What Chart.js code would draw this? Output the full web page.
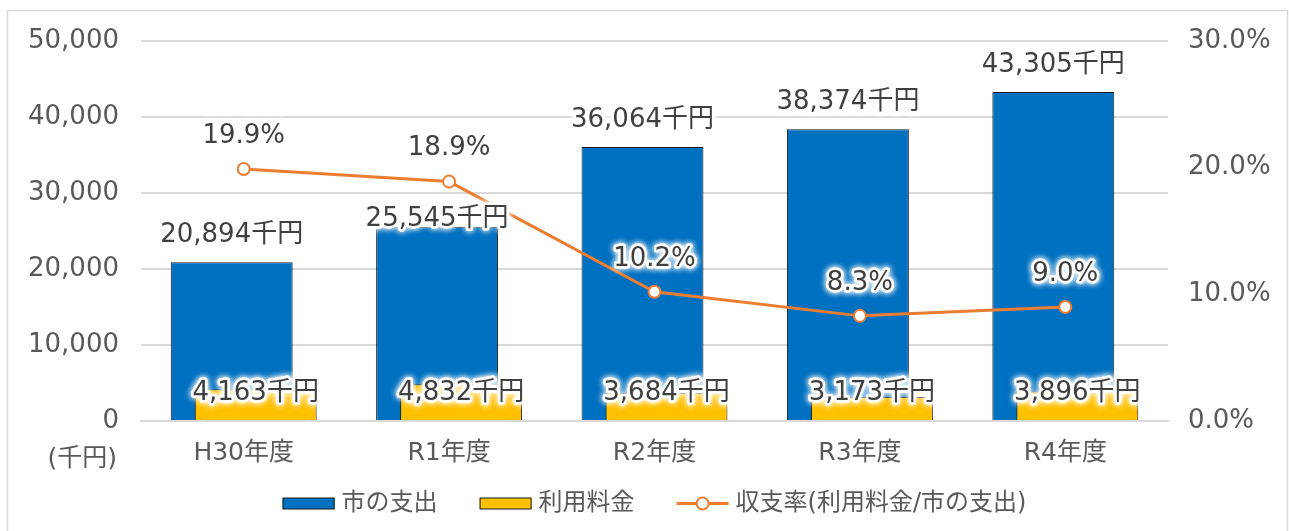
<!DOCTYPE html>
<html>
<head>
<meta charset="utf-8">
<script src="https://cdn.jsdelivr.net/npm/chart.js@4/dist/chart.umd.min.js"></script>
<style>
html,body{margin:0;padding:0;background:#fff;overflow:hidden;}
#wrap{width:1289px;height:531px;position:relative;}
</style>
</head>
<body>
<div id="wrap"><canvas id="c" width="1289" height="531"></canvas></div>
<script>
// ---- data ----
const categories = ['H30年度', 'R1年度', 'R2年度', 'R3年度', 'R4年度'];
const cityExpense = [20894, 25545, 36064, 38374, 43305];
const usageFees = [4163, 4832, 3684, 3173, 3896];
const recoveryRate = [19.9, 18.9, 10.2, 8.3, 9.0];
const leftTicks = [0, 10000, 20000, 30000, 40000, 50000];
const rightTicks = [0, 10, 20, 30];
const seriesNames = ['市の支出', '利用料金', '収支率(利用料金/市の支出)'];
const unitLabel = '(千円)';
const valueSuffix = '千円';

// ---- styling ----
const FONT = "'DejaVu Sans', 'Noto Sans CJK JP', sans-serif";
const BLUE = '#0070C0', YELLOW = '#FFC000', ORANGE = '#ED7D31';
const GRID = '#d9d9d9', TICK = '#595959', LABEL = '#404040';
const topLabelShift = [0, 19, 0, 0, 0];

Chart.defaults.font.family = FONT;

function fmt(v) { return v.toLocaleString('en-US'); }

function glowText(ctx, text, x, y, color) {
  ctx.save();
  ctx.shadowColor = 'rgba(255,255,255,1)';
  ctx.shadowBlur = 6;
  ctx.strokeStyle = 'rgba(255,255,255,0.9)';
  ctx.lineWidth = 5;
  ctx.lineJoin = 'round';
  ctx.strokeText(text, x, y);
  ctx.strokeText(text, x, y);
  ctx.restore();
  ctx.fillStyle = color;
  ctx.fillText(text, x, y);
}

const deferred = [1, 2];

const customPlugin = {
  id: 'custom',
  beforeDatasetDraw(chart, args) {
    if (deferred.includes(args.index)) return false;
  },
  afterDatasetsDraw(chart) {
    const ctx = chart.ctx;
    for (const idx of deferred) {
      ctx.save();
      chart.getDatasetMeta(idx).controller.draw();
      ctx.restore();
    }
    ctx.save();
    ctx.font = '26px ' + FONT;
    ctx.textAlign = 'center';
    ctx.textBaseline = 'middle';
    const m0 = chart.getDatasetMeta(0).data;
    const m1 = chart.getDatasetMeta(1).data;
    const m2 = chart.getDatasetMeta(2).data;
    m0.forEach((el, i) => {
      glowText(ctx, fmt(cityExpense[i]) + valueSuffix, el.x, el.y - 27 + topLabelShift[i], LABEL);
    });
    m1.forEach((el, i) => {
      glowText(ctx, fmt(usageFees[i]) + valueSuffix, el.x, el.base - 27, LABEL);
    });
    m2.forEach((el, i) => {
      glowText(ctx, recoveryRate[i].toFixed(1) + '%', el.x, el.y - 33, LABEL);
    });
    ctx.restore();
  },
  afterDraw(chart) {
    const ctx = chart.ctx;
    const area = chart.chartArea;
    ctx.save();
    // outer border
    ctx.strokeStyle = '#d9d9d9';
    ctx.lineWidth = 1.5;
    ctx.strokeRect(7.5, 10.5, 1280, 540);
    // unit label
    ctx.font = '25px ' + FONT;
    ctx.fillStyle = TICK;
    ctx.textAlign = 'right';
    ctx.textBaseline = 'middle';
    ctx.fillText(unitLabel, 117, 459);
    // legend
    ctx.font = '24px ' + FONT;
    const sw = 52, gapText = 7, gapItem = 42;
    const widths = seriesNames.map(n => sw + gapText + ctx.measureText(n).width);
    const total = widths.reduce((a, b) => a + b, 0) + gapItem * (widths.length - 1);
    let x = (area.left + area.right) / 2 - total / 2;
    const cy = 503.5;
    ctx.textAlign = 'left';
    seriesNames.forEach((name, i) => {
      const ds = chart.data.datasets[i];
      if (ds.type === 'line') {
        ctx.strokeStyle = ORANGE;
        ctx.lineWidth = 3;
        ctx.beginPath(); ctx.moveTo(x, cy); ctx.lineTo(x + sw, cy); ctx.stroke();
        ctx.beginPath(); ctx.arc(x + sw / 2, cy, 6, 0, Math.PI * 2);
        ctx.fillStyle = '#fff'; ctx.fill();
        ctx.lineWidth = 2; ctx.stroke();
      } else {
        ctx.fillStyle = ds.backgroundColor;
        ctx.fillRect(x, cy - 5.5, sw, 11);
        ctx.strokeStyle = '#1a1a1a';
        ctx.lineWidth = 1;
        ctx.strokeRect(x + 0.5, cy - 5.5, sw - 1, 11);
      }
      ctx.fillStyle = TICK;
      ctx.fillText(name, x + sw + gapText, cy);
      x += widths[i] + gapItem;
    });
    ctx.restore();
  }
};

new Chart(document.getElementById('c'), {
  data: {
    labels: categories,
    datasets: [
      {
        type: 'bar', label: seriesNames[0], data: cityExpense, yAxisID: 'y',
        backgroundColor: BLUE, borderColor: '#1a1a1a', borderWidth: 1,
        categoryPercentage: 0.2337, barPercentage: 5.08
      },
      {
        type: 'bar', label: seriesNames[1], data: usageFees, yAxisID: 'y',
        backgroundColor: YELLOW, borderColor: '#1a1a1a', borderWidth: 1,
        categoryPercentage: 0.2337, barPercentage: 5.08
      },
      {
        type: 'line', label: seriesNames[2], data: recoveryRate, yAxisID: 'y1',
        borderColor: ORANGE, borderWidth: 3, tension: 0,
        pointRadius: 6, pointBackgroundColor: '#fff', pointBorderColor: ORANGE, pointBorderWidth: 2
      }
    ]
  },
  options: {
    responsive: false,
    animation: false,
    layout: { padding: { top: 41, right: 0, bottom: 0, left: 0 } },
    plugins: { legend: { display: false }, tooltip: { enabled: false } },
    scales: {
      x: {
        grid: { display: false, drawTicks: false },
        border: { display: true, color: GRID, width: 2 },
        ticks: { color: TICK, font: { size: 25 }, padding: 17 },
        afterFit(s) { s.height = 110; }
      },
      y: {
        position: 'left', min: 0, max: 50000,
        grid: { color: GRID, lineWidth: 2, drawTicks: false },
        border: { display: false },
        ticks: { color: TICK, font: { size: 26 }, padding: 22, callback: v => fmt(v) },
        afterBuildTicks(s) { s.ticks = leftTicks.map(v => ({ value: v })); },
        afterFit(s) { s.width = 141; }
      },
      y1: {
        position: 'right', min: 0, max: 30,
        grid: { display: false, drawTicks: false },
        border: { display: false },
        ticks: { color: TICK, font: { size: 26 }, padding: 20, callback: v => v.toFixed(1) + '%' },
        afterBuildTicks(s) { s.ticks = rightTicks.map(v => ({ value: v })); },
        afterFit(s) { s.width = 121; }
      }
    }
  },
  plugins: [customPlugin]
});
</script>
</body>
</html>
